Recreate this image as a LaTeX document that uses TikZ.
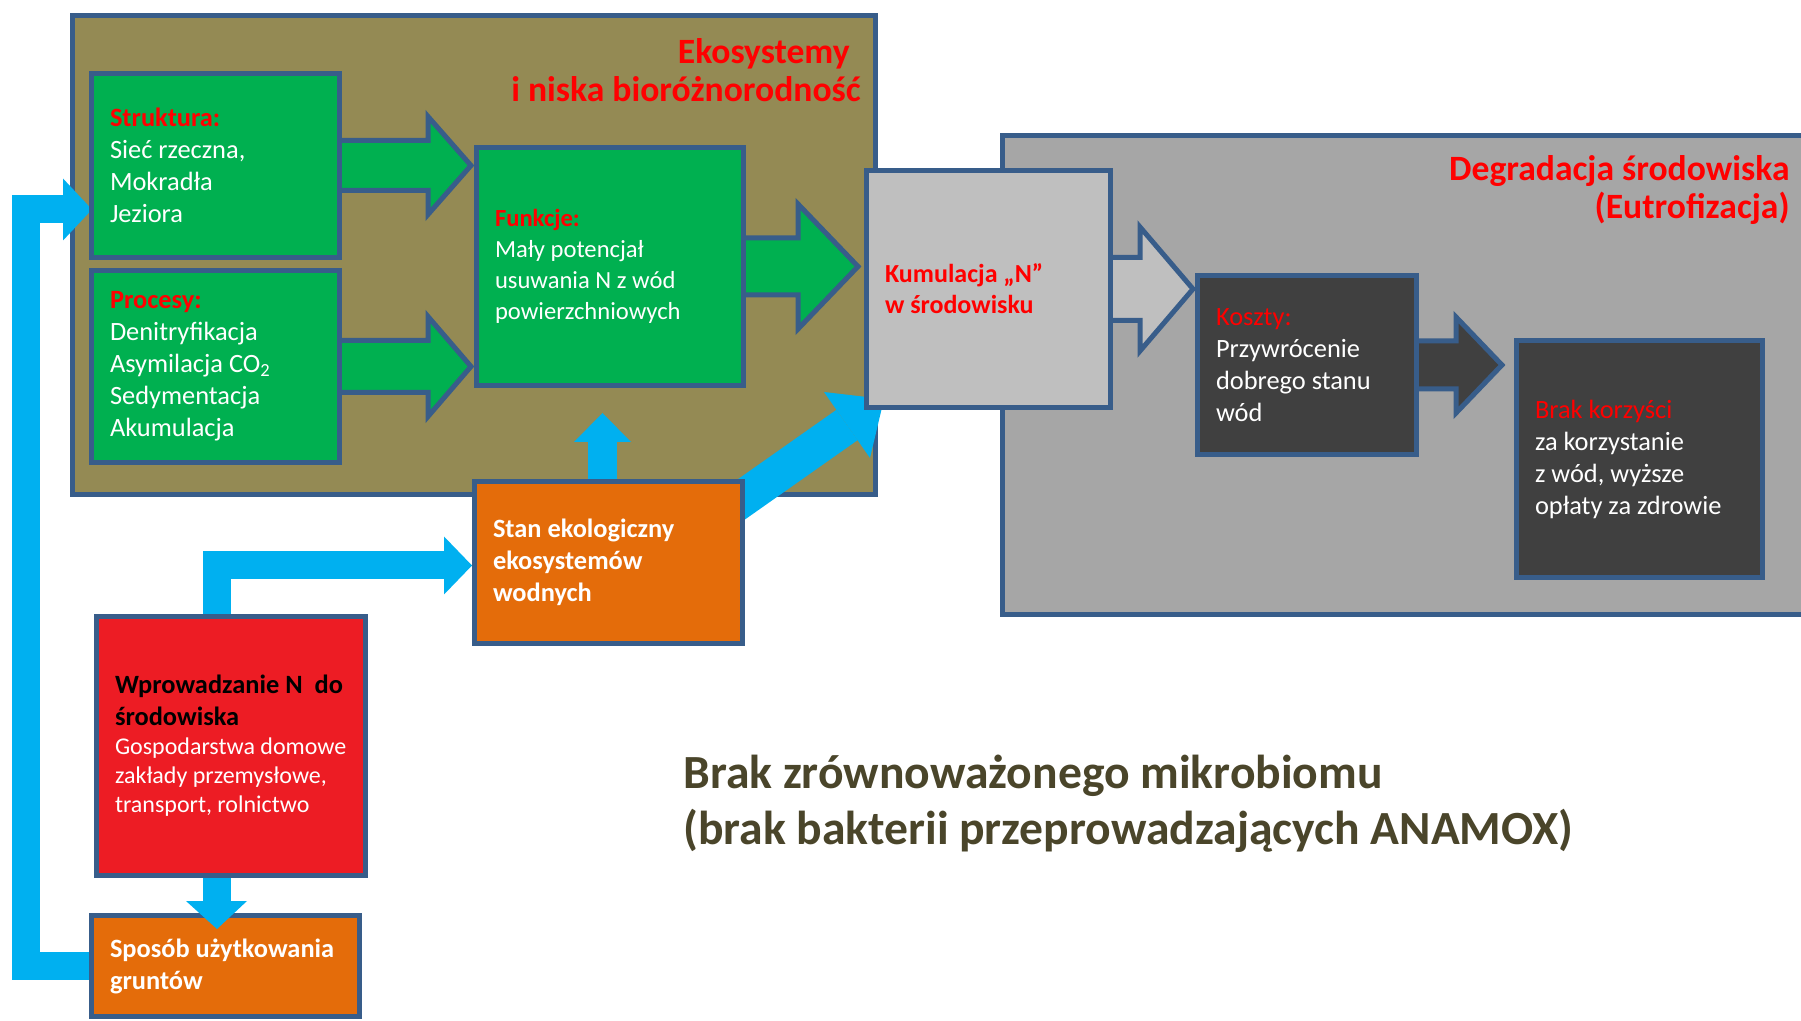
\documentclass[tikz,border=0pt]{standalone}
\usepackage{fontspec}
\setmainfont{Carlito}
\usetikzlibrary{calc, positioning}

\definecolor{olivebg}{HTML}{948A54}
\definecolor{edgeblue}{HTML}{385D8A}
\definecolor{boxgreen}{HTML}{00B050}
\definecolor{lightgrey}{HTML}{BFBFBF}
\definecolor{midgrey}{HTML}{A6A6A6}
\definecolor{darkgrey}{HTML}{404040}
\definecolor{boxorange}{HTML}{E46C0A}
\definecolor{boxred}{HTML}{ED1C24}
\definecolor{flowblue}{HTML}{00B0F0}
\definecolor{titlered}{HTML}{FF0000}
\definecolor{notetext}{HTML}{4A452A}

\newcommand{\boxfont}{\fontsize{13.2}{16}\selectfont}
\newcommand{\smallboxfont}{\fontsize{12.3}{15.5}\selectfont}
\newcommand{\areatitlefont}{\fontsize{17.8}{19}\selectfont}
\newcommand{\notefont}{\fontsize{23.8}{28}\selectfont}

\pgfdeclarelayer{back}
\pgfdeclarelayer{middle}
\pgfsetlayers{back,middle,main}

\begin{document}
\begin{tikzpicture}[x=0.5pt, y=-0.5pt,
		box/.style={draw=edgeblue, line width=2.5pt, anchor=north west, inner xsep=9.25pt, inner ysep=0pt, align=flush left, text=white, font=\boxfont},
		greenbox/.style={box, fill=boxgreen},
		greybox/.style={box, fill=lightgrey},
		darkbox/.style={box, fill=darkgrey},
		orangebox/.style={box, fill=boxorange},
		redbox/.style={box, fill=boxred},
		area/.style={draw=edgeblue, line width=2.5pt, anchor=north west, inner sep=0pt},
		areatitle/.style={anchor=north east, inner sep=0pt, align=right, text=titlered, font=\areatitlefont\bfseries},
		blockarrow/.style={draw=edgeblue, line width=2.5pt, line join=miter},
		blueflow/.style={draw=flowblue, line width=14pt, line join=miter},
		bluehead/.style={fill=flowblue}]
		\useasboundingbox (0,0) rectangle (1801,1021);

		\begin{pgfonlayer}{back}
			\fill[white] (0,0) rectangle (1801,1021);
			\node[area, fill=olivebg, minimum width=401.5pt, minimum height=239.5pt] (ECO) at (70,13) {};
			\node[area, fill=midgrey, minimum width=417.5pt, minimum height=239.5pt] (DEG) at (1000,133) {};
			\node[areatitle] (ECOT) at ($(ECO.north east)+(-17,25)$) {Ekosystemy\hspace*{5.5pt}\\i niska bioróżnorodność};
			\node[areatitle] (DEGT) at ($(DEG.north west)+(790,22)$) {Degradacja środowiska\\(Eutrofizacja)};
		\end{pgfonlayer}

		\node[greenbox, minimum width=124pt, minimum height=92pt, text width=105.5pt] (STR) at (89,71) {{\color{titlered}\bfseries Struktura:}\\Sieć rzeczna,\\Mokradła\\Jeziora};
		\node[greenbox, minimum width=124pt, minimum height=96pt, text width=105.5pt] (PRO) at (89,268) {{\color{titlered}\bfseries Procesy:}\\Denitryfikacja\\Asymilacja CO\textsubscript{2}\\Sedymentacja\\Akumulacja};
		\node[greenbox, minimum width=133.5pt, minimum height=119pt, text width=115pt, font=\smallboxfont] (FUN) at (474,145) {{\color{titlered}\bfseries Funkcje:}\\Mały potencjał\\\mbox{usuwania N z wód}\\powierzchniowych};
		\node[greybox, minimum width=122pt, minimum height=118.5pt, text width=103.5pt, text=titlered, font=\fontsize{13}{15.5}\selectfont\bfseries] (KUM) at (864,168) {Kumulacja „N”\\w środowisku};
		\node[darkbox, minimum width=109.5pt, minimum height=89.5pt, text width=91pt] (KOS) at (1195,273) {{\color{titlered}Koszty:}\\Przywrócenie\\\mbox{dobrego stanu}\\wód};
		\node[darkbox, minimum width=123pt, minimum height=118.5pt, text width=104.5pt] (BRK) at (1514,338) {{\color{titlered}Brak korzyści}\\za korzystanie\\z wód, wyższe\\\mbox{opłaty za zdrowie}};
		\node[orangebox, minimum width=134pt, minimum height=81pt, text width=115.5pt, font=\boxfont\bfseries] (STAN) at (472,479) {\mbox{Stan ekologiczny}\\ekosystemów\\wodnych};
		\node[redbox, minimum width=134.5pt, minimum height=129.5pt, text width=116pt] (WPR) at (94,614) {{\color{black}\bfseries \mbox{Wprowadzanie N\ \ do}\\środowiska\par}{\smallboxfont\fontsize{12}{14.5}\selectfont \mbox{Gospodarstwa domowe}\\\mbox{zakłady przemysłowe,}\\\mbox{transport, rolnictwo}\par}};
		\node[orangebox, minimum width=134pt, minimum height=50.5pt, text width=115.5pt, font=\boxfont\bfseries] (SPO) at (89,913) {\mbox{Sposób użytkowania}\\gruntów};
		\node[anchor=north west, inner sep=0pt, align=left, text=notetext, font=\notefont\bfseries] (NOTE) at (683,755) {Brak zrównoważonego mikrobiomu\\(brak bakterii przeprowadzających ANAMOX)};

		\begin{pgfonlayer}{middle}
			\draw[blockarrow, fill=boxgreen] ($(STR.center)+(0,-25)$) -- ($(STR.center -| FUN.west)+(-46,-25)$) -- ($(STR.center -| FUN.west)+(-46,-49)$) -- ($(STR.center -| FUN.west)+(-3,0)$) -- ($(STR.center -| FUN.west)+(-46,49)$) -- ($(STR.center -| FUN.west)+(-46,25)$) -- ($(STR.center)+(0,25)$) -- cycle;
			\draw[blockarrow, fill=boxgreen] ($(PRO.center)+(0,-26)$) -- ($(PRO.center -| FUN.west)+(-46,-26)$) -- ($(PRO.center -| FUN.west)+(-46,-50)$) -- ($(PRO.center -| FUN.west)+(-3,0)$) -- ($(PRO.center -| FUN.west)+(-46,50)$) -- ($(PRO.center -| FUN.west)+(-46,26)$) -- ($(PRO.center)+(0,26)$) -- cycle;
			\draw[blockarrow, fill=boxgreen] ($(FUN.center)+(0,-28.5)$) -- ($(FUN.center -| KUM.west)+(-66,-28.5)$) -- ($(FUN.center -| KUM.west)+(-66,-62.5)$) -- ($(FUN.center -| KUM.west)+(-6,0)$) -- ($(FUN.center -| KUM.west)+(-66,62.5)$) -- ($(FUN.center -| KUM.west)+(-66,28.5)$) -- ($(FUN.center)+(0,28.5)$) -- cycle;
			\draw[blockarrow, fill=lightgrey] ($(KUM.center)+(0,-31.5)$) -- ($(KUM.center -| KOS.west)+(-55,-31.5)$) -- ($(KUM.center -| KOS.west)+(-55,-62)$) -- ($(KUM.center -| KOS.west)+(-2,0)$) -- ($(KUM.center -| KOS.west)+(-55,62)$) -- ($(KUM.center -| KOS.west)+(-55,31.5)$) -- ($(KUM.center)+(0,31.5)$) -- cycle;
			\draw[blockarrow, fill=darkgrey] ($(KOS.center)+(0,-24)$) -- ($(KOS.center -| BRK.west)+(-58,-24)$) -- ($(KOS.center -| BRK.west)+(-58,-48)$) -- ($(KOS.center -| BRK.west)+(-12,0)$) -- ($(KOS.center -| BRK.west)+(-58,48)$) -- ($(KOS.center -| BRK.west)+(-58,24)$) -- ($(KOS.center)+(0,24)$) -- cycle;

			\draw[blueflow] (SPO.west) -| ($(STR.west)+(-63,44)$) -- ($(STR.west)+(-26,44)$);
			\fill[bluehead] ($(STR.west)+(-26,13)$) -- ($(STR.west)+(3,44)$) -- ($(STR.west)+(-26,75)$) -- cycle;
			\draw[blueflow] ($(WPR.north)+(-14,0)$) |- ($(STAN.west)+(-28,3)$);
			\fill[bluehead] ($(STAN.west)+(-28,-26)$) -- ($(STAN.west)+(0,3)$) -- ($(STAN.west)+(-28,32)$) -- cycle;
			\draw[blueflow, line width=14.5pt] ($(STAN.north)+(-6,0)$) -- ($(STAN.north)+(-6,-37)$);
			\fill[bluehead] ($(STAN.north)+(-34.5,-37)$) -- ($(STAN.north)+(-6,-66)$) -- ($(STAN.north)+(22.5,-37)$) -- cycle;
			\draw[blueflow, line width=18.5pt] ($(STAN.north east)+(-13,27)$) -- ($(KUM.south west)+(-17,15)$);
			\fill[bluehead] ($(KUM.south west)+(6,48)$) -- ($(KUM.south west)+(20,-11)$) -- ($(KUM.south west)+(-40,-18)$) -- cycle;
		\end{pgfonlayer}

		\draw[blueflow] ($(WPR.south)+(-14,0)$) -- ($(WPR.south)+(-14,23)$);
		\fill[bluehead] ($(WPR.south)+(-45,23)$) -- ($(WPR.south)+(-14,51)$) -- ($(WPR.south)+(16,23)$) -- cycle;
	\end{tikzpicture}
\end{document}
